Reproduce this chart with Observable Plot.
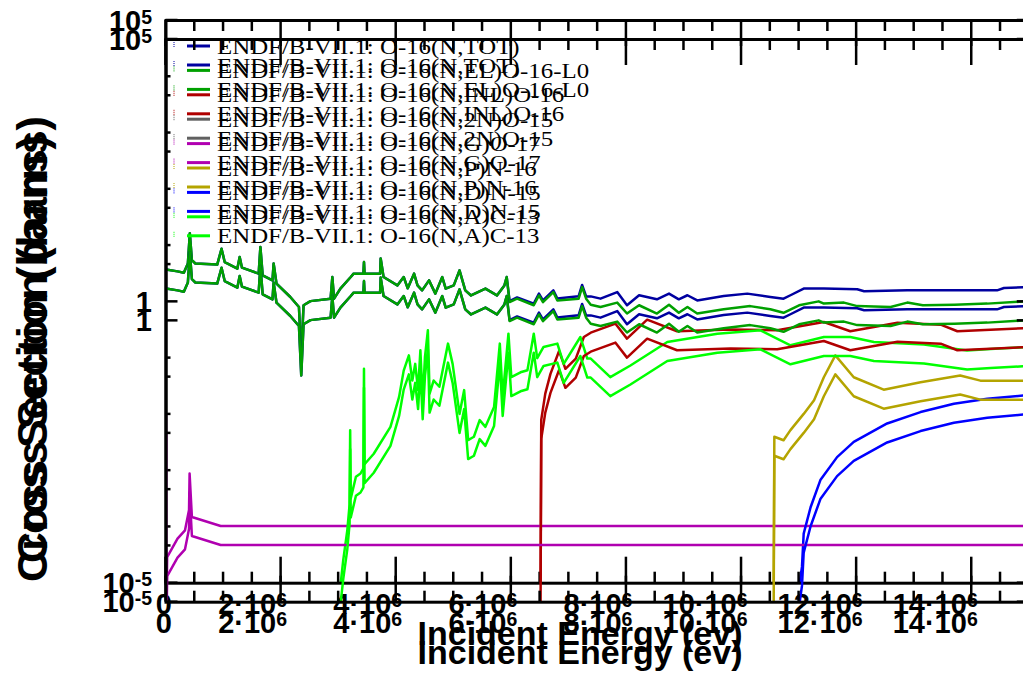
<!DOCTYPE html>
<html><head><meta charset="utf-8">
<script src="https://cdn.jsdelivr.net/npm/d3@7"></script>
<script src="https://cdn.jsdelivr.net/npm/@observablehq/plot@0.6"></script>
<style>
html,body{margin:0;padding:0;background:#fff;overflow:hidden;width:1023px;height:675px}
#wrap{position:relative;width:1023px;height:675px;overflow:hidden;background:#fff}
.layer{position:absolute;left:0;width:1040px;height:675px}
</style></head><body><div id="wrap"></div>
<script>
// ---- data (energy in MeV, cross section in barns) ----
const totalXS = [[0,3.75],[0.20,3.48],[0.31,3.30],[0.38,4.8],[0.414,16.5],[0.45,5.5],[0.51,4.8],[0.89,4.6],[0.965,8.8],[1.02,5.1],[1.24,3.9],[1.28,6.25],[1.32,4.05],[1.61,3.17],[1.64,9.4],[1.68,2.96],[1.85,2.41],[1.87,4.8],[1.92,2.1],[2.16,1.22],[2.31,0.81],[2.35,0.107],[2.39,0.87],[2.51,1.03],[2.86,1.14],[2.89,2.76],[2.92,1.14],[3.03,1.72],[3.21,2.76],[3.26,3.17],[3.43,3.17],[3.44,5.1],[3.45,3.17],[3.72,3.17],[3.73,5.9],[3.78,2.76],[4.02,1.96],[4.13,2.76],[4.2,1.74],[4.31,3.17],[4.37,1.96],[4.45,1.6],[4.57,2.41],[4.68,1.4],[4.8,2.76],[4.86,1.72],[5.0,1.96],[5.1,3.63],[5.2,1.6],[5.3,1.3],[5.55,1.72],[5.75,1.3],[5.88,1.96],[5.92,2.76],[5.97,1.03],[6.1,1.2],[6.39,0.93],[6.48,1.4],[6.55,1.06],[6.73,1.6],[6.8,1.15],[7.17,1.26],[7.23,2.0],[7.3,1.25],[7.38,1.25],[7.55,1.14],[7.84,1.49],[8.01,0.87],[8.22,1.31],[8.53,1.11],[8.74,1.40],[8.91,1.11],[9.06,1.31],[9.23,1.06],[9.69,1.27],[10.1,1.40],[10.5,1.22],[10.73,1.14],[10.85,1.31],[11.08,1.72],[11.43,1.72],[12.01,1.67],[12.13,1.54],[12.88,1.60],[14.44,1.60],[14.56,1.76],[14.95,1.83]];
const elasticXS = [[0,3.75],[0.20,3.48],[0.31,3.30],[0.38,4.8],[0.414,16.5],[0.45,5.5],[0.51,4.8],[0.89,4.6],[0.965,8.8],[1.02,5.1],[1.24,3.9],[1.28,6.25],[1.32,4.05],[1.61,3.17],[1.64,9.4],[1.68,2.96],[1.85,2.41],[1.87,4.8],[1.92,2.1],[2.16,1.22],[2.31,0.81],[2.35,0.107],[2.39,0.87],[2.51,1.03],[2.86,1.14],[2.89,2.76],[2.92,1.14],[3.03,1.72],[3.21,2.76],[3.26,3.17],[3.43,3.17],[3.44,5.1],[3.45,3.17],[3.72,3.17],[3.73,5.9],[3.78,2.76],[4.02,1.96],[4.13,2.76],[4.2,1.74],[4.31,3.17],[4.37,1.96],[4.45,1.6],[4.57,2.41],[4.68,1.4],[4.8,2.76],[4.86,1.72],[5.0,1.96],[5.1,3.63],[5.2,1.6],[5.3,1.3],[5.55,1.72],[5.75,1.3],[5.88,1.96],[5.92,2.76],[5.97,0.99],[6.1,1.14],[6.39,0.87],[6.48,1.3],[6.55,0.99],[6.73,1.49],[6.8,1.06],[7.17,1.14],[7.23,1.83],[7.3,1.14],[7.38,0.89],[7.55,0.81],[7.84,0.97],[8.01,0.62],[8.22,0.87],[8.53,0.62],[8.74,0.89],[8.91,0.64],[9.06,0.81],[9.23,0.62],[9.69,0.74],[10.15,0.84],[10.5,0.74],[10.73,0.64],[11.0,0.87],[11.34,1.02],[11.43,0.93],[11.78,0.97],[12.01,0.84],[12.59,0.81],[12.88,0.97],[13.15,0.87],[13.7,0.89],[14.27,0.93],[14.95,1.02]];
const inelasticXS = [[6.50,1e-7],[6.52,0.008],[6.59,0.0234],[6.68,0.0525],[6.83,0.134],[6.94,0.0646],[7.12,0.098],[7.26,0.237],[7.38,0.283],[7.81,0.41],[8.01,0.222],[8.36,0.482],[8.88,0.30],[9.81,0.324],[10.62,0.312],[11.43,0.438],[11.89,0.30],[12.71,0.427],[13.46,0.393],[13.75,0.30],[14.95,0.343]];
const n2nXS = []; // threshold above the plotted energy range
const captureXS = [[0,9.6e-3],[2.53e-8,1.9e-4],[1e-3,9.6e-7],[0.02,2.9e-5],[0.2,6.2e-5],[0.33,8.7e-5],[0.40,2.0e-4],[0.41,8.9e-4],[0.45,1.5e-4],[0.95,1.04e-4],[14.95,1.04e-4]];
const protonXS = [[10.55,1e-7],[10.57,0.004],[10.73,0.00347],[10.85,0.00525],[11.08,0.0102],[11.26,0.0178],[11.43,0.0457],[11.63,0.112],[11.95,0.0457],[12.47,0.0275],[13.11,0.0372],[13.8,0.049],[14.15,0.0398],[14.95,0.0398]];
const deuteronXS = [[11.0,1e-7],[11.01,1e-5],[11.05,1.95e-5],[11.08,7.6e-5],[11.2,2.24e-4],[11.37,6.8e-4],[11.66,1.74e-3],[11.95,3.24e-3],[12.53,6.9e-3],[13.11,0.011],[13.69,0.0155],[14.27,0.019],[14.95,0.0219]];
const alphaXS = [[2.98,3e-6],[3.08,2.6e-5],[3.15,8.7e-5],[3.19,2.5e-4],[3.20,5.2e-3],[3.21,3.2e-4],[3.30,7.8e-4],[3.38,8.9e-4],[3.43,1.1e-3],[3.44,0.0646],[3.45,1.3e-3],[3.61,2.0e-3],[3.9,6.0e-3],[4.05,0.0204],[4.13,0.06],[4.22,0.112],[4.28,0.04],[4.33,0.079],[4.38,0.027],[4.42,0.138],[4.46,0.0178],[4.50,0.105],[4.55,0.312],[4.58,0.0234],[4.65,0.04],[4.75,0.031],[4.9,0.181],[4.98,0.079],[5.1,0.0102],[5.18,0.027],[5.25,0.0035],[5.35,0.004],[5.45,0.0079],[5.55,0.006],[5.7,0.0135],[5.8,0.181],[5.85,0.0204],[5.95,0.272],[6.0,0.046],[6.16,0.056],[6.28,0.061],[6.39,0.272],[6.45,0.1],[6.56,0.158],[6.8,0.181],[6.91,0.079],[7.2,0.237],[7.32,0.098],[7.38,0.098],[7.72,0.046],[8.07,0.074],[8.71,0.193],[9.58,0.272],[10.33,0.312],[10.85,0.169],[11.43,0.237],[11.89,0.237],[12.3,0.193],[13.17,0.174],[13.92,0.137],[14.33,0.145],[14.95,0.157]];

const seriesNames = ["ENDF/B-VII.1: O-16(N,TOT)","ENDF/B-VII.1: O-16(N,EL)O-16-L0","ENDF/B-VII.1: O-16(N,INL)O-16","ENDF/B-VII.1: O-16(N,2N)O-15","ENDF/B-VII.1: O-16(N,G)O-17","ENDF/B-VII.1: O-16(N,P)N-16","ENDF/B-VII.1: O-16(N,D)N-15","ENDF/B-VII.1: O-16(N,A)C-13"];
const seriesColors = ["#0000a0","#00a000","#b00000","#606060","#b000b0","#b4a400","#0000ff","#00ff00"];
const seriesData = [totalXS, elasticXS, inelasticXS, n2nXS, captureXS, protonXS, deuteronXS, alphaXS];

const xMajorTicks = [0,2,4,6,8,10,12,14];
const xMinorTicks = [0.5,1,1.5,2.5,3,3.5,4.5,5,5.5,6.5,7,7.5,8.5,9,9.5,10.5,11,11.5,12.5,13,13.5,14.5];
const xTickLabels = [["0",""],["2·10","6"],["4·10","6"],["6·10","6"],["8·10","6"],["10·10","6"],["12·10","6"],["14·10","6"]];
const yTicks = [1e-5,1e-4,1e-3,1e-2,1e-1,1,1e1,1e2,1e3,1e4,1e5];
const yLabelTicks = [1e-5,1,1e5];
const yTickLabels = [["10","-5"],["1",""],["10","5"]];
const xTitle = "Incident Energy (ev)";
const yTitle = "Cross Section (barns)";

const MEV = 1e6;
const SANS = "'Liberation Sans', Arial, Helvetica, sans-serif";
const SERIF = "'Liberation Serif', 'Times New Roman', serif";

function chart() {
  const rows = [];
  seriesData.forEach((d, i) => d.forEach(([e, s]) => rows.push({E: e * MEV, s, name: seriesNames[i]})));
  const plot = Plot.plot({
    width: 1040, height: 675,
    marginLeft: 165.5, marginRight: 1040 - 1028.8, marginTop: 20, marginBottom: 675 - 582.7,
    x: {type: "linear", domain: [0, 15e6], axis: null},
    y: {type: "log", domain: [1e-5, 1e5], axis: null},
    color: {domain: seriesNames, range: seriesColors},
    style: {background: "transparent", maxWidth: "none", overflow: "visible"},
    marks: [
      Plot.line(rows, {x: "E", y: "s", z: "name", stroke: "name", strokeWidth: 2.5, clip: true, strokeLinejoin: "round"}),
      Plot.frame({stroke: "#000", strokeWidth: 3})
    ]
  });
  const sx = plot.scale("x"), sy = plot.scale("y");
  const [xl, xr] = sx.range, [yb, yt] = sy.range;
  const svg = d3.select(plot);
  const g = svg.append("g").attr("stroke", "#000").attr("stroke-width", 2.5).attr("fill", "none");
  const X = v => sx.apply(v * MEV);
  xMajorTicks.forEach(v => {
    g.append("line").attr("x1", X(v)).attr("x2", X(v)).attr("y1", yb).attr("y2", yb - 26);
    g.append("line").attr("x1", X(v)).attr("x2", X(v)).attr("y1", yt).attr("y2", yt + 26);
  });
  xMinorTicks.forEach(v => {
    g.append("line").attr("x1", X(v)).attr("x2", X(v)).attr("y1", yb).attr("y2", yb - 11);
    g.append("line").attr("x1", X(v)).attr("x2", X(v)).attr("y1", yt).attr("y2", yt + 11);
  });
  yTicks.forEach(v => {
    const L = yLabelTicks.includes(v) ? 12 : 5;
    const y = sy.apply(v);
    g.append("line").attr("x1", xl).attr("x2", xl + L).attr("y1", y).attr("y2", y);
    g.append("line").attr("x1", xr).attr("x2", xr - L).attr("y1", y).attr("y2", y);
  });
  const t = svg.append("g").attr("fill", "#000").attr("font-family", SANS).attr("font-weight", "bold");
  xMajorTicks.forEach((v, i) => {
    const txt = t.append("text").attr("x", X(v) + 6.5).attr("y", yb + 31).attr("text-anchor", "end").attr("font-size", 29);
    txt.append("tspan").text(xTickLabels[i][0]);
    if (xTickLabels[i][1]) txt.append("tspan").attr("font-size", 19.5).attr("dy", -7).text(xTickLabels[i][1]);
  });
  yLabelTicks.forEach((v, i) => {
    const txt = t.append("text").attr("x", 152).attr("y", sy.apply(v) + 10.5).attr("text-anchor", "end").attr("font-size", 29);
    txt.append("tspan").text(yTickLabels[i][0]);
    if (yTickLabels[i][1]) txt.append("tspan").attr("font-size", 19.5).attr("dy", -7).text(yTickLabels[i][1]);
  });
  t.append("text").attr("x", 580).attr("y", 645).attr("text-anchor", "middle").attr("font-size", 34).text(xTitle);
  t.append("text").attr("transform", "translate(47,339.5) rotate(-90)").attr("text-anchor", "middle").attr("font-size", 43).text(yTitle);
  // legend
  const lg = svg.append("g");
  seriesNames.forEach((name, i) => {
    const y = yt + 26 + i * 24.4;
    lg.append("line").attr("x1", 174).attr("x2", 174).attr("y1", y - 4).attr("y2", y + 2)
      .attr("stroke", seriesColors[i]).attr("stroke-width", 1).attr("stroke-dasharray", "1,1");
    lg.append("line").attr("x1", 187).attr("x2", 210).attr("y1", y).attr("y2", y)
      .attr("stroke", seriesColors[i]).attr("stroke-width", 3);
    lg.append("text").attr("transform", `translate(217,${y + 7.5}) scale(1.13,1)`).attr("text-anchor", "start")
      .attr("font-family", SERIF).attr("font-size", 22).attr("fill", "#000").text(name);
  });
  return plot;
}

const wrap = document.getElementById("wrap");
[0, 19].forEach(off => {
  const d = document.createElement("div");
  d.className = "layer";
  d.style.top = off + "px";
  d.appendChild(chart());
  wrap.appendChild(d);
});
</script></body></html>
